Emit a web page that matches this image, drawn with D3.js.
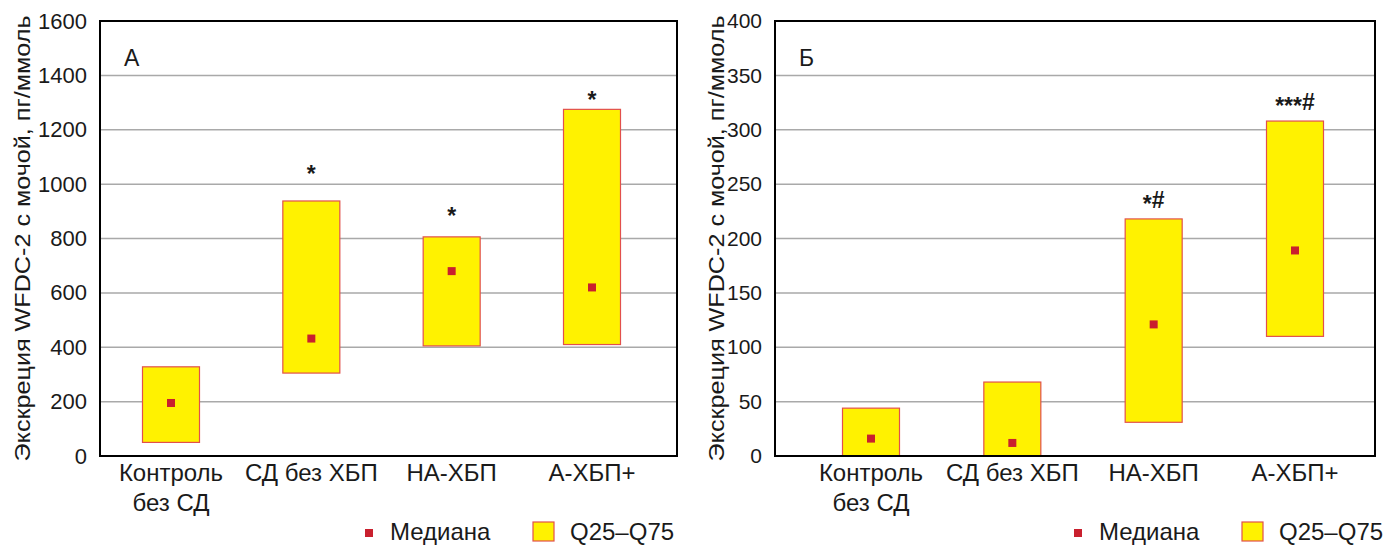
<!DOCTYPE html>
<html>
<head>
  <meta charset="utf-8">
  <script src="https://cdn.jsdelivr.net/npm/d3@7"></script>
  <style>
    body { margin: 0; background: #fff; }
    text { font-family: "Liberation Sans", Arial, sans-serif; fill: #1a1a1a; }
  </style>
</head>
<body>
  <svg width="1389" height="545"></svg>
<script>

// categories and values
const categories = ['Контроль|без СД', 'СД без ХБП', 'НА-ХБП', 'А-ХБП+'];

const aQ25 = [50, 305, 405, 410];
const aQ75 = [328, 938, 806, 1275];
const aMedian = [195, 432, 680, 620];
const aMarks = ['', '*', '*', '*'];
const aMarkLevel = [0, 1070, 915, 1340];
const aTicks = [0, 200, 400, 600, 800, 1000, 1200, 1400, 1600];

const bQ25 = [0, 0, 31, 110];
const bQ75 = [44, 68, 218, 308];
const bMedian = [16, 12, 121, 189];
const bMarks = ['', '', '*#', '***#'];
const bMarkLevel = [0, 0, 240, 330];
const bTicks = [0, 50, 100, 150, 200, 250, 300, 350, 400];

const yTitle = 'Экскреция WFDC-2 с мочой, пг/ммоль';

const svg = d3.select('svg');

let panel = (cfg) => {
  let g = svg.append('g').attr('transform', 'translate(' + cfg.x + ',0)');
  let w = cfg.w, top = 21, bottom = 456;

  let y = d3.scaleLinear().domain([0, d3.max(cfg.ticks)]).range([bottom, top]);
  let x = d3.scalePoint().domain(categories).range(cfg.xr);
  let bw = 57;

  // gridlines
  g.selectAll('.grid').data(cfg.ticks.slice(1, -1)).enter().append('line')
    .attr('x1', 0).attr('x2', w)
    .attr('y1', d => y(d)).attr('y2', d => y(d))
    .style('stroke', '#a9a9a9').style('stroke-width', 1.5);

  // tick labels
  let ax = g.append('g')
    .call(d3.axisLeft(y).tickValues(cfg.ticks).tickFormat(d3.format('d')).tickSize(0).tickPadding(13));
  ax.select('.domain').remove();
  ax.selectAll('text').style('font-size', cfg.tickSize).style('fill', '#1a1a1a')
    .style('font-family', '"Liberation Sans", Arial, sans-serif');

  // boxes
  categories.forEach((c, i) => {
    g.append('rect')
      .attr('x', x(c) - bw / 2)
      .attr('y', y(cfg.q75[i]))
      .attr('width', bw)
      .attr('height', y(cfg.q25[i]) - y(cfg.q75[i]))
      .style('fill', '#fff200')
      .style('stroke', '#e2504c')
      .style('stroke-width', 1.2);

    g.append('rect')
      .attr('x', x(c) - 4)
      .attr('y', y(cfg.median[i]) - 4)
      .attr('width', 8).attr('height', 8)
      .style('fill', '#c9202e');

    if (cfg.marks[i]) {
      let t = g.append('text')
        .attr('x', x(c))
        .attr('y', y(cfg.markLevel[i]))
        .attr('text-anchor', 'middle')
        .style('font-size', '23px')
        .style('font-weight', 'bold');
      let stars = cfg.marks[i].replace('#', '');
      t.append('tspan').attr('dy', 16.6).text(stars);
      if (cfg.marks[i].includes('#'))
        t.append('tspan').attr('dy', -4).text('#');
    }

    let lines = c.split('|');
    lines.forEach((l, k) => {
      g.append('text')
        .attr('x', x(c))
        .attr('y', 481 + k * 30)
        .attr('text-anchor', 'middle')
        .style('font-size', '24px')
        .text(l);
    });
  });

  // frame
  g.append('rect')
    .attr('x', 0).attr('y', top)
    .attr('width', w).attr('height', bottom - top)
    .style('fill', 'none').style('stroke', '#000').style('stroke-width', 2);

  // panel letter
  g.append('text').attr('x', 24).attr('y', 66)
    .style('font-size', '23px').text(cfg.letter);

  // axis title
  g.append('text')
    .attr('transform', 'translate(' + (cfg.titleX) + ',' + ((top + bottom) / 2) + ') rotate(-90)')
    .attr('text-anchor', 'middle')
    .attr('textLength', 446)
    .attr('lengthAdjust', 'spacingAndGlyphs')
    .style('font-size', '22px')
    .text(yTitle);

  // legend
  let lg = g.append('g').attr('transform', 'translate(' + cfg.legendX + ',0)');
  lg.append('rect').attr('x', 0).attr('y', 529).attr('width', 8).attr('height', 8)
    .style('fill', '#c9202e');
  lg.append('text').attr('x', 25).attr('y', 540).style('font-size', '24px').text('Медиана');
  lg.append('rect').attr('x', 168).attr('y', 522).attr('width', 21).attr('height', 19)
    .style('fill', '#fff200').style('stroke', '#e2504c').style('stroke-width', 1.2);
  lg.append('text').attr('x', 205).attr('y', 540).style('font-size', '24px').text('Q25–Q75');
};

panel({ x: 100, w: 577, xr: [71, 492], ticks: aTicks, q25: aQ25, q75: aQ75, median: aMedian,
  marks: aMarks, markLevel: aMarkLevel, letter: 'А', titleX: -70, legendX: 265, tickSize: '22px' });

panel({ x: 775, w: 600, xr: [96, 520], ticks: bTicks, q25: bQ25, q75: bQ75, median: bMedian,
  marks: bMarks, markLevel: bMarkLevel, letter: 'Б', titleX: -51, legendX: 299, tickSize: '21px' });

</script>
</body>
</html>
